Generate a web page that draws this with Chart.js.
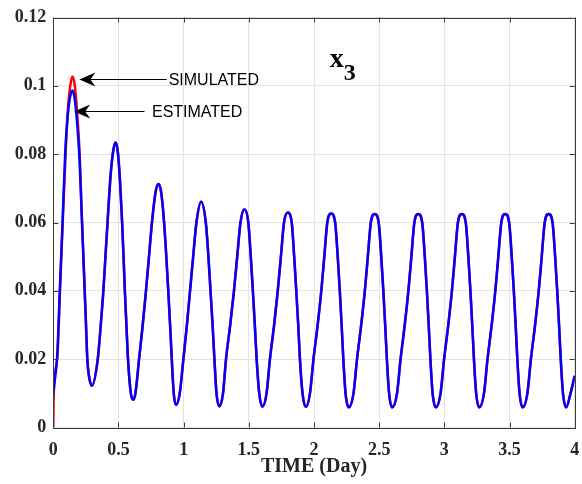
<!DOCTYPE html>
<html><head><meta charset="utf-8">
<script src="https://cdn.jsdelivr.net/npm/chart.js@4.4.1/dist/chart.umd.min.js"></script>
<style>html,body{margin:0;padding:0;background:#fff;}#wrap{width:582px;height:484px;}</style>
</head><body><div id="wrap"><canvas id="c" width="582" height="484"></canvas></div>
<script>
// ---- data ----
const timeDays = [
  0, 0.003, 0.030, 0.051, 0.072, 0.092, 0.110, 0.130, 0.147, 0.165, 0.185, 0.202, 0.218, 0.241, 0.251, 0.261, 0.274, 0.296,
  0.341, 0.364, 0.384, 0.400, 0.416, 0.440, 0.460, 0.477, 0.494, 0.512, 0.528, 0.539, 0.549, 0.561, 0.573, 0.595, 0.614,
  0.630, 0.658, 0.686, 0.711, 0.734, 0.757, 0.785, 0.806, 0.827, 0.850, 0.867, 0.882, 0.896, 0.909, 0.924, 0.942,
  0.970, 0.998, 1.025, 1.049, 1.073, 1.098, 1.134, 1.170, 1.190, 1.206, 1.222, 1.236, 1.252, 1.274,
  1.302, 1.325, 1.357, 1.386, 1.411, 1.436, 1.466, 1.496, 1.515, 1.531, 1.546, 1.560, 1.580, 1.604,
  1.636, 1.662, 1.694, 1.722, 1.746, 1.770, 1.799, 1.829, 1.848, 1.864, 1.879, 1.892, 1.912, 1.937,
  1.969, 1.996, 2.028, 2.056, 2.079, 2.102, 2.132, 2.162, 2.182, 2.198, 2.212, 2.225, 2.242, 2.267,
  2.303, 2.330, 2.362, 2.390, 2.413, 2.436, 2.466, 2.496, 2.516, 2.532, 2.546, 2.559, 2.576, 2.600,
  2.637, 2.664, 2.696, 2.724, 2.747, 2.770, 2.800, 2.830, 2.850, 2.866, 2.880, 2.893, 2.910, 2.935,
  2.971, 2.998, 3.030, 3.058, 3.081, 3.104, 3.134, 3.164, 3.184, 3.200, 3.214, 3.227, 3.244, 3.268,
  3.304, 3.331, 3.363, 3.391, 3.414, 3.437, 3.467, 3.497, 3.517, 3.533, 3.547, 3.560, 3.577, 3.601,
  3.637, 3.664, 3.696, 3.724, 3.747, 3.770, 3.800, 3.830, 3.850, 3.866, 3.880, 3.893, 3.910, 3.935,
  3.968, 4.000
];
const simulated = [
  0, 0.0095, 0.020, 0.040, 0.060, 0.078, 0.092, 0.100, 0.1027, 0.100, 0.091, 0.080, 0.063, 0.040, 0.030, 0.020, 0.015, 0.0122,
  0.020, 0.030, 0.040, 0.050, 0.060, 0.074, 0.081, 0.0834, 0.081, 0.072, 0.060, 0.050, 0.040, 0.030, 0.020, 0.010, 0.0081,
  0.010, 0.020, 0.030, 0.040, 0.050, 0.060, 0.069, 0.0713, 0.069, 0.060, 0.050, 0.040, 0.030, 0.020, 0.010, 0.0066,
  0.010, 0.020, 0.030, 0.040, 0.050, 0.060, 0.0661, 0.060, 0.050, 0.040, 0.030, 0.020, 0.010, 0.0062,
  0.010, 0.020, 0.030, 0.040, 0.050, 0.060, 0.0639, 0.060, 0.050, 0.040, 0.030, 0.020, 0.010, 0.0061,
  0.010, 0.020, 0.030, 0.040, 0.050, 0.060, 0.0629, 0.060, 0.050, 0.040, 0.030, 0.020, 0.010, 0.0060,
  0.010, 0.020, 0.030, 0.040, 0.050, 0.060, 0.0626, 0.060, 0.050, 0.040, 0.030, 0.020, 0.010, 0.0059,
  0.010, 0.020, 0.030, 0.040, 0.050, 0.060, 0.0625, 0.060, 0.050, 0.040, 0.030, 0.020, 0.010, 0.0059,
  0.010, 0.020, 0.030, 0.040, 0.050, 0.060, 0.0625, 0.060, 0.050, 0.040, 0.030, 0.020, 0.010, 0.0059,
  0.010, 0.020, 0.030, 0.040, 0.050, 0.060, 0.0625, 0.060, 0.050, 0.040, 0.030, 0.020, 0.010, 0.0059,
  0.010, 0.020, 0.030, 0.040, 0.050, 0.060, 0.0625, 0.060, 0.050, 0.040, 0.030, 0.020, 0.010, 0.0059,
  0.010, 0.020, 0.030, 0.040, 0.050, 0.060, 0.0625, 0.060, 0.050, 0.040, 0.030, 0.020, 0.010, 0.0059,
  0.010, 0.0151
];
const estimated = [
  0.0095, 0.011, 0.021, 0.041, 0.061, 0.081, 0.091, 0.097, 0.0986, 0.096, 0.088, 0.078, 0.062, 0.040, 0.030, 0.020, 0.015, 0.0122,
  0.020, 0.030, 0.040, 0.050, 0.060, 0.074, 0.081, 0.0834, 0.081, 0.072, 0.060, 0.050, 0.040, 0.030, 0.020, 0.010, 0.0081,
  0.010, 0.020, 0.030, 0.040, 0.050, 0.060, 0.069, 0.0713, 0.069, 0.060, 0.050, 0.040, 0.030, 0.020, 0.010, 0.0066,
  0.010, 0.020, 0.030, 0.040, 0.050, 0.060, 0.0661, 0.060, 0.050, 0.040, 0.030, 0.020, 0.010, 0.0062,
  0.010, 0.020, 0.030, 0.040, 0.050, 0.060, 0.0639, 0.060, 0.050, 0.040, 0.030, 0.020, 0.010, 0.0061,
  0.010, 0.020, 0.030, 0.040, 0.050, 0.060, 0.0629, 0.060, 0.050, 0.040, 0.030, 0.020, 0.010, 0.0060,
  0.010, 0.020, 0.030, 0.040, 0.050, 0.060, 0.0626, 0.060, 0.050, 0.040, 0.030, 0.020, 0.010, 0.0059,
  0.010, 0.020, 0.030, 0.040, 0.050, 0.060, 0.0625, 0.060, 0.050, 0.040, 0.030, 0.020, 0.010, 0.0059,
  0.010, 0.020, 0.030, 0.040, 0.050, 0.060, 0.0625, 0.060, 0.050, 0.040, 0.030, 0.020, 0.010, 0.0059,
  0.010, 0.020, 0.030, 0.040, 0.050, 0.060, 0.0625, 0.060, 0.050, 0.040, 0.030, 0.020, 0.010, 0.0059,
  0.010, 0.020, 0.030, 0.040, 0.050, 0.060, 0.0625, 0.060, 0.050, 0.040, 0.030, 0.020, 0.010, 0.0059,
  0.010, 0.020, 0.030, 0.040, 0.050, 0.060, 0.0625, 0.060, 0.050, 0.040, 0.030, 0.020, 0.010, 0.0059,
  0.010, 0.0151
];
const xTickValues = [0, 0.5, 1, 1.5, 2, 2.5, 3, 3.5, 4];
const xTickLabels = ['0', '0.5', '1', '1.5', '2', '2.5', '3', '3.5', '4'];
const yTickValues = [0, 0.02, 0.04, 0.06, 0.08, 0.1, 0.12];
const yTickLabels = ['0', '0.02', '0.04', '0.06', '0.08', '0.1', '0.12'];
const seriesNames = ['SIMULATED', 'ESTIMATED'];
const xAxisTitle = 'TIME (Day)';
const panelName = 'x';
const panelSub = '3';
// annotation anchors (data coordinates)
const arrowTipX = [0.20, 0.16];
const arrowTipY = [0.1020, 0.0925];
const arrowTailX = [0.87, 0.70];
const arrowTextX = [0.885, 0.757];
const panelPos = [2.12, 0.1055];

const serif = '"Liberation Serif", "Times New Roman", serif';
const sans = '"Liberation Sans", Arial, sans-serif';
const inkColor = '#262626';

const toXY = (ys) => ys.map((y, i) => ({ x: timeDays[i], y: y }));

const overlay = {
  id: 'overlay',
  afterDraw(chart) {
    const ctx = chart.ctx;
    const a = chart.chartArea;
    const xs = chart.scales.x, ys = chart.scales.y;
    ctx.save();
    ctx.strokeStyle = '#3a3a3a';
    ctx.lineWidth = 1;
    ctx.strokeRect(Math.round(a.left) + 0.5, Math.round(a.top) + 0.5,
                   Math.round(a.right) - Math.round(a.left), Math.round(a.bottom) - Math.round(a.top));
    ctx.beginPath();
    const tl = 5;
    xTickValues.forEach(v => {
      const px = Math.round(xs.getPixelForValue(v)) + 0.5;
      ctx.moveTo(px, a.bottom); ctx.lineTo(px, a.bottom - tl);
      ctx.moveTo(px, a.top); ctx.lineTo(px, a.top + tl);
    });
    yTickValues.forEach(v => {
      const py = Math.round(ys.getPixelForValue(v)) + 0.5;
      ctx.moveTo(a.left, py); ctx.lineTo(a.left + tl, py);
      ctx.moveTo(a.right, py); ctx.lineTo(a.right - tl, py);
    });
    ctx.stroke();
    ctx.fillStyle = '#000';
    ctx.strokeStyle = '#000';
    ctx.font = '16px ' + sans;
    ctx.textBaseline = 'middle';
    ctx.textAlign = 'left';
    for (let i = 0; i < seriesNames.length; i++) {
      const tx = xs.getPixelForValue(arrowTipX[i]);
      const ty = Math.round(ys.getPixelForValue(arrowTipY[i])) + 0.5;
      const ex = xs.getPixelForValue(arrowTailX[i]);
      ctx.lineWidth = 1;
      ctx.beginPath();
      ctx.moveTo(tx + 10, ty); ctx.lineTo(ex, ty);
      ctx.stroke();
      ctx.beginPath();
      ctx.moveTo(tx, ty);
      ctx.lineTo(tx + 16, ty - 7);
      ctx.lineTo(tx + 11, ty);
      ctx.lineTo(tx + 16, ty + 7);
      ctx.closePath();
      ctx.fill();
      ctx.fillText(seriesNames[i], xs.getPixelForValue(arrowTextX[i]), ty + 1);
    }
    const lx = xs.getPixelForValue(panelPos[0]);
    const ly = ys.getPixelForValue(panelPos[1]);
    ctx.textBaseline = 'alphabetic';
    ctx.font = 'bold 28px ' + serif;
    ctx.fillStyle = '#000';
    ctx.fillText(panelName, lx, ly);
    const w = ctx.measureText(panelName).width;
    ctx.font = 'bold 24px ' + serif;
    ctx.fillText(panelSub, lx + w, ly + 13);
    ctx.restore();
  }
};

new Chart(document.getElementById('c'), {
  type: 'line',
  data: {
    datasets: [
      { label: seriesNames[1], data: toXY(estimated), borderColor: '#0000ff', borderWidth: 2.5, order: 0 },
      { label: seriesNames[0], data: toXY(simulated), borderColor: '#ff0000', borderWidth: 2.5, order: 1 }
    ]
  },
  options: {
    responsive: false,
    animation: false,
    devicePixelRatio: 1,
    layout: { padding: { top: 17.5, right: 7.3, left: 0, bottom: 0 } },
    plugins: { legend: { display: false }, tooltip: { enabled: false } },
    elements: { point: { radius: 0 }, line: { cubicInterpolationMode: 'monotone', fill: false } },
    scales: {
      x: {
        type: 'linear', min: 0, max: 4,
        afterBuildTicks: s => { s.ticks = xTickValues.map(v => ({ value: v })); },
        afterFit: s => { s.height = 56.5; s.paddingLeft = 0; s.paddingRight = 0; },
        ticks: { callback: (v, i) => xTickLabels[i], autoSkip: false, maxRotation: 0,
                 font: { family: serif, weight: 'bold', size: 18 }, color: inkColor, padding: 12 },
        grid: { color: '#e4e4e4', drawTicks: false },
        border: { display: false },
        title: { display: true, text: xAxisTitle, color: inkColor,
                 font: { family: serif, weight: 'bold', size: 20 }, padding: { top: 0, bottom: 5 } }
      },
      y: {
        type: 'linear', min: 0, max: 0.12,
        afterBuildTicks: s => { s.ticks = yTickValues.map(v => ({ value: v })); },
        afterFit: s => { s.width = 53.3; s.paddingTop = 0; s.paddingBottom = 0; },
        ticks: { callback: (v, i) => yTickLabels[i], autoSkip: false,
                 font: { family: serif, weight: 'bold', size: 18 }, color: inkColor, padding: 7 },
        grid: { color: '#e4e4e4', drawTicks: false },
        border: { display: false }
      }
    }
  },
  plugins: [overlay]
});
</script></body></html>
